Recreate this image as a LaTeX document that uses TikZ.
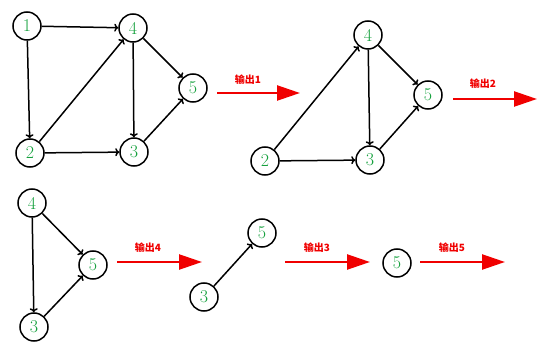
\documentclass[tikz,border=0pt]{standalone}
\usepackage{fontspec}
\newfontfamily\cjk{Noto Sans CJK SC}
\usetikzlibrary{arrows.meta}
\definecolor{numgreen}{RGB}{20,160,60}
\definecolor{outred}{RGB}{240,0,0}
\tikzset{
  vertex/.style={circle, draw, line width=1.5pt, minimum size=28pt, inner sep=0pt,
    text=numgreen, font=\fontsize{18}{18}\selectfont},
  edge/.style={-{To[length=4pt,width=8pt]}, line width=1.5pt},
  outarr/.style={-{Triangle[length=23pt,width=15pt]}, line width=2.4pt, outred},
  outlbl/.style={text=outred, font=\cjk\bfseries\fontsize{10}{10}\selectfont},
}

\begin{document}
\begin{tikzpicture}[x=1pt, y=-1pt]
\useasboundingbox (0,0) rectangle (544,350);

% ── Graph 1: full ──
\node[vertex] (a1) at (27,26) {1};
\node[vertex] (a4) at (133,28) {4};
\node[vertex] (a5) at (193,88) {5};
\node[vertex] (a2) at (30,153) {2};
\node[vertex] (a3) at (134,152) {3};
\draw[edge] (a1) -- (a4);
\draw[edge] (a1) -- (a2);
\draw[edge] (a2) -- (a4);
\draw[edge] (a2) -- (a3);
\draw[edge] (a4) -- (a3);
\draw[edge] (a4) -- (a5);
\draw[edge] (a3) -- (a5);

% ── Output 1 ──
\coordinate (o1s) at (217,93);
\coordinate (o1e) at (300,93);
\draw[outarr] (o1s) -- (o1e);
\node[outlbl] (l1) at (248,80) {输出1};

% ── Graph 2: without 1 ──
\node[vertex] (b4) at (368,35) {4};
\node[vertex] (b5) at (428,95) {5};
\node[vertex] (b2) at (265,161) {2};
\node[vertex] (b3) at (370,160) {3};
\draw[edge] (b2) -- (b4);
\draw[edge] (b2) -- (b3);
\draw[edge] (b4) -- (b3);
\draw[edge] (b4) -- (b5);
\draw[edge] (b3) -- (b5);

% ── Output 2 ──
\coordinate (o2s) at (453,99);
\coordinate (o2e) at (537,99);
\draw[outarr] (o2s) -- (o2e);
\node[outlbl] (l2) at (483,84) {输出2};

% ── Graph 3: without 2 ──
\node[vertex] (c4) at (32,203) {4};
\node[vertex] (c5) at (93,265) {5};
\node[vertex] (c3) at (34,327) {3};
\draw[edge] (c4) -- (c3);
\draw[edge] (c4) -- (c5);
\draw[edge] (c3) -- (c5);

% ── Output 4 ──
\coordinate (o4s) at (117,262);
\coordinate (o4e) at (202,262);
\draw[outarr] (o4s) -- (o4e);
\node[outlbl] (l4) at (148,248) {输出4};

% ── Graph 4: without 4 ──
\node[vertex] (d5) at (262,233) {5};
\node[vertex] (d3) at (204,297) {3};
\draw[edge] (d3) -- (d5);

% ── Output 3 ──
\coordinate (o3s) at (285,262);
\coordinate (o3e) at (370,262);
\draw[outarr] (o3s) -- (o3e);
\node[outlbl] (l3) at (317,248) {输出3};

% ── Graph 5: only 5 ──
\node[vertex] (e5) at (397,263) {5};

% ── Output 5 ──
\coordinate (o5s) at (420,262);
\coordinate (o5e) at (505,262);
\draw[outarr] (o5s) -- (o5e);
\node[outlbl] (l5) at (452,248) {输出5};

\end{tikzpicture}
\end{document}
